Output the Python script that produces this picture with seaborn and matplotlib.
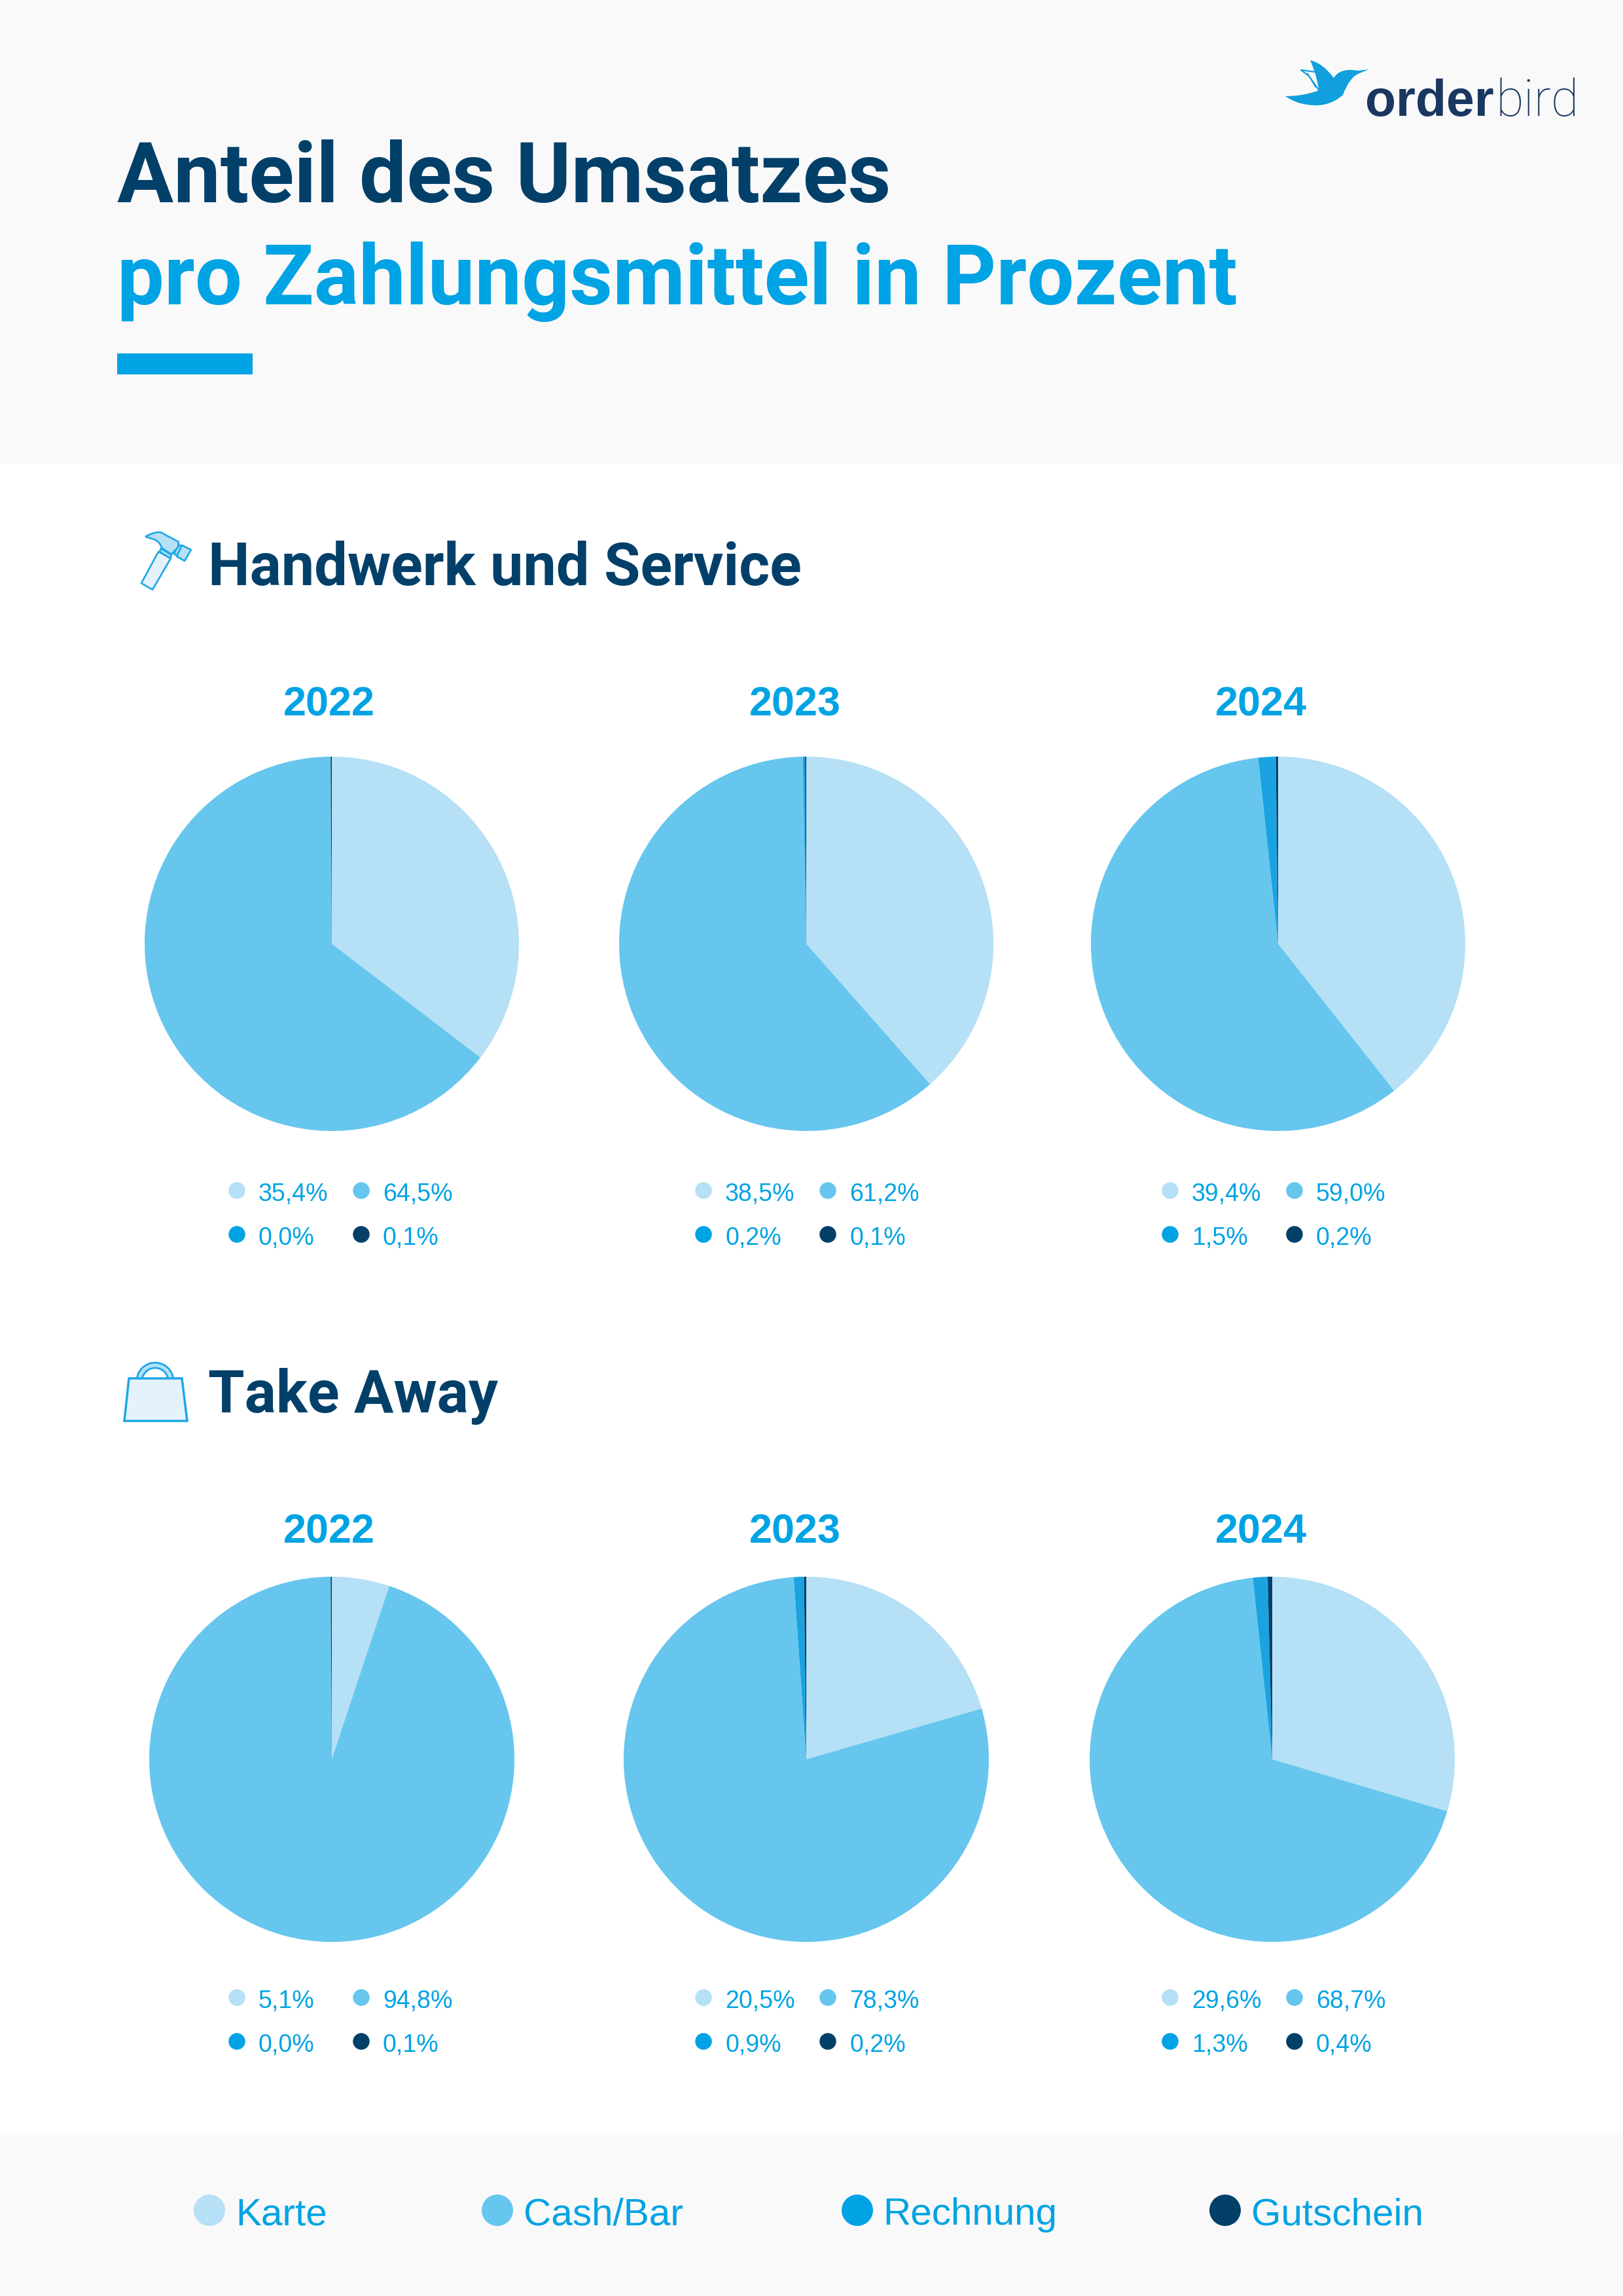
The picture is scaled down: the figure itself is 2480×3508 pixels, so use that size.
import matplotlib
matplotlib.use("Agg")
import matplotlib.pyplot as plt
import matplotlib.patches as mpatches
from matplotlib.path import Path
import pandas as pd
import seaborn as sns

# Data
payment_types = ["Karte", "Cash/Bar", "Rechnung", "Gutschein"]
years = ["2022", "2023", "2024"]
handwerk_2022 = [35.4, 64.5, 0.0, 0.1]
handwerk_2023 = [38.5, 61.2, 0.2, 0.1]
handwerk_2024 = [39.4, 59.0, 1.5, 0.2]
takeaway_2022 = [5.1, 94.8, 0.0, 0.1]
takeaway_2023 = [20.5, 78.3, 0.9, 0.2]
takeaway_2024 = [29.6, 68.7, 1.3, 0.4]

# Colours
pie_colors = sns.color_palette(["#B5E0F5", "#66C6EE", "#1AA3E0", "#024069"])
dot_colors = sns.color_palette(["#B5E0F5", "#66C6EE", "#00A3E4", "#024069"])
dark = "#024069"
blue = "#00A3E4"
panel = "#F9F9F9"

W, H = 2480, 3508
DPI = 100

sns.set_theme(style="white")
plt.rcParams["font.family"] = ["Liberation Sans", "DejaVu Sans"]


def pts(px):
    # font size given in output pixels
    return px * 72 / DPI


fig = plt.figure(figsize=(W / DPI, H / DPI), dpi=DPI, facecolor="white")

# overlay in pixel coordinates for the layout pieces (panels, headings, icons)
bg = fig.add_axes([0, 0, 1, 1], zorder=0)
bg.set_xlim(0, W)
bg.set_ylim(H, 0)
bg.axis("off")

bg.add_patch(mpatches.Rectangle((0, 0), W, 708, color=panel, lw=0))
bg.add_patch(mpatches.Rectangle((0, 3259), W, 249, color=panel, lw=0))
bg.add_patch(mpatches.Rectangle((179, 540), 207, 32, color=blue, lw=0))

# Title
bg.text(179, 309, "Anteil des Umsatzes", fontsize=pts(128), fontweight="bold", family="Roboto", color=dark, va="baseline")
bg.text(179, 465, "pro Zahlungsmittel in Prozent", fontsize=pts(128), fontweight="bold", family="Roboto", color=blue, va="baseline")

# Logo
bird = Path(
    [(1964, 147), (1990, 147), (2013, 139), (2015, 136), (2012, 115), (2002, 92),
     (2022, 97), (2038, 119), (2048, 103), (2075, 108), (2092, 106), (2077, 112),
     (2062, 118), (2052, 145), (2030, 165), (1998, 160), (1980, 158), (1964, 147)],
    [Path.MOVETO, Path.CURVE3, Path.CURVE3, Path.LINETO, Path.CURVE3, Path.CURVE3,
     Path.CURVE3, Path.CURVE3, Path.CURVE3, Path.CURVE3, Path.LINETO, Path.LINETO,
     Path.CURVE3, Path.CURVE3, Path.CURVE3, Path.CURVE3, Path.CURVE3, Path.CURVE3],
)
bg.add_patch(mpatches.PathPatch(bird, facecolor="#119FDD", edgecolor="none"))
bg.plot([1988, 2010], [107, 110], color="#119FDD", lw=1.6)
bg.plot([1988, 2000, 2014], [107, 116, 136], color="#119FDD", lw=1.6)
bg.plot([1998, 2010], [112, 133], color="#119FDD", lw=1.2)
bg.text(2086, 177, "order", fontsize=pts(77), fontweight="bold", color="#1A3761", va="baseline")
bg.text(2286, 177, "bird", fontsize=pts(78), fontweight="light", family="Roboto", color="#1A3761", va="baseline")

# Section headings
bg.text(318, 894, "Handwerk und Service", fontsize=pts(90), fontweight="bold", family="Roboto", color=dark, va="baseline")
bg.text(318, 2158, "Take Away", fontsize=pts(90), fontweight="bold", family="Roboto", color=dark, va="baseline")

# Hammer icon
line_blue = "#1DA7E6"
icon = {"edgecolor": line_blue, "lw": 1.9, "joinstyle": "round"}
bg.add_patch(mpatches.Polygon([(242, 843), (261, 853), (233, 901), (216, 891)], facecolor="#E4F3FB", **icon))
bg.add_patch(mpatches.Polygon([(246, 838), (262, 848), (260, 853), (244, 843)], facecolor="#B5E0F5", **icon))
bg.add_patch(mpatches.Polygon([(273, 832), (278, 835), (270, 849), (266, 846)], facecolor="#B5E0F5", **icon))
head = Path(
    [(222, 820), (234, 813), (245, 813), (273, 828), (272, 836), (262, 847), (247, 837), (244, 826), (232, 823), (222, 820)],
    [Path.MOVETO, Path.CURVE3, Path.CURVE3, Path.LINETO, Path.LINETO, Path.LINETO, Path.LINETO, Path.CURVE3, Path.CURVE3, Path.LINETO],
)
bg.add_patch(mpatches.PathPatch(head, facecolor="#B5E0F5", **icon))
bg.add_patch(mpatches.Polygon([(278, 833), (292, 840), (282, 857), (270, 850)], facecolor="#B5E0F5", **icon))

# Bag icon
bg.add_patch(mpatches.Wedge((237, 2110), 28, 180, 360, width=8, facecolor="#B5E0F5", edgecolor=line_blue, lw=2))
bg.add_patch(mpatches.Polygon([(197, 2106), (278, 2106), (286, 2171), (190, 2171)], facecolor="#E4F3FB", edgecolor=line_blue, lw=2.5))

# One row per pie: (values, centre x, centre y, radius, year label x, label baseline, legend x offset, legend y)
layout = [
    (handwerk_2022, 507, 1442, 286, 503, 1094, 0, 1819),
    (handwerk_2023, 1232, 1442, 286, 1215, 1094, 713, 1819),
    (handwerk_2024, 1953, 1442, 286, 1927, 1094, 1426, 1819),
    (takeaway_2022, 507, 2688, 279, 503, 2357, 0, 3052),
    (takeaway_2023, 1232, 2688, 279, 1215, 2357, 713, 3052),
    (takeaway_2024, 1944, 2688, 279, 1927, 2357, 1426, 3052),
]
year_labels = years + years

dot_rows = []
for (vals, cx, cy, r, lx, ly, off, dy), year in zip(layout, year_labels):
    ax = fig.add_axes([(cx - r) / W, 1 - (cy + r) / H, 2 * r / W, 2 * r / H], zorder=1)
    ax.pie(vals, colors=pie_colors, startangle=90, counterclock=False, radius=1,
           wedgeprops={"linewidth": 0})
    ax.set_xlim(-1, 1)
    ax.set_ylim(-1, 1)

    bg.text(lx, ly, year, fontsize=pts(63), fontweight="bold", color=blue, ha="center", va="baseline")

    # small 2x2 value legend under the pie
    for i, (v, name) in enumerate(zip(vals, payment_types)):
        col = i % 2
        row = i // 2
        x = 362 + off + col * 190
        y = dy + row * 67
        dot_rows.append({"x": x, "y": y, "kind": name})
        label = f"{v:.1f}".replace(".", ",") + "%"
        bg.text(x + 33, y + 16, label, fontsize=pts(37.5), color=blue, va="baseline")

dots = pd.DataFrame(dot_rows)
sns.scatterplot(data=dots, x="x", y="y", hue="kind", hue_order=payment_types, palette=dot_colors,
                s=pts(25.5) ** 2, linewidth=0, legend=False, ax=bg)

# Footer legend
footer_dot_x = [320, 760, 1310, 1872]
footer_text_x = [360, 800, 1349, 1912]
footer = pd.DataFrame({"x": footer_dot_x, "y": [3377] * 4, "kind": payment_types})
sns.scatterplot(data=footer, x="x", y="y", hue="kind", hue_order=payment_types, palette=dot_colors,
                s=pts(48) ** 2, linewidth=0, legend=False, ax=bg)
for x, name in zip(footer_text_x, payment_types):
    bg.text(x, 3399, name, fontsize=pts(58.5), color=blue, va="baseline")

bg.set_xlim(0, W)
bg.set_ylim(H, 0)
bg.set_xlabel("")
bg.set_ylabel("")

fig.savefig("out.png", dpi=DPI)
